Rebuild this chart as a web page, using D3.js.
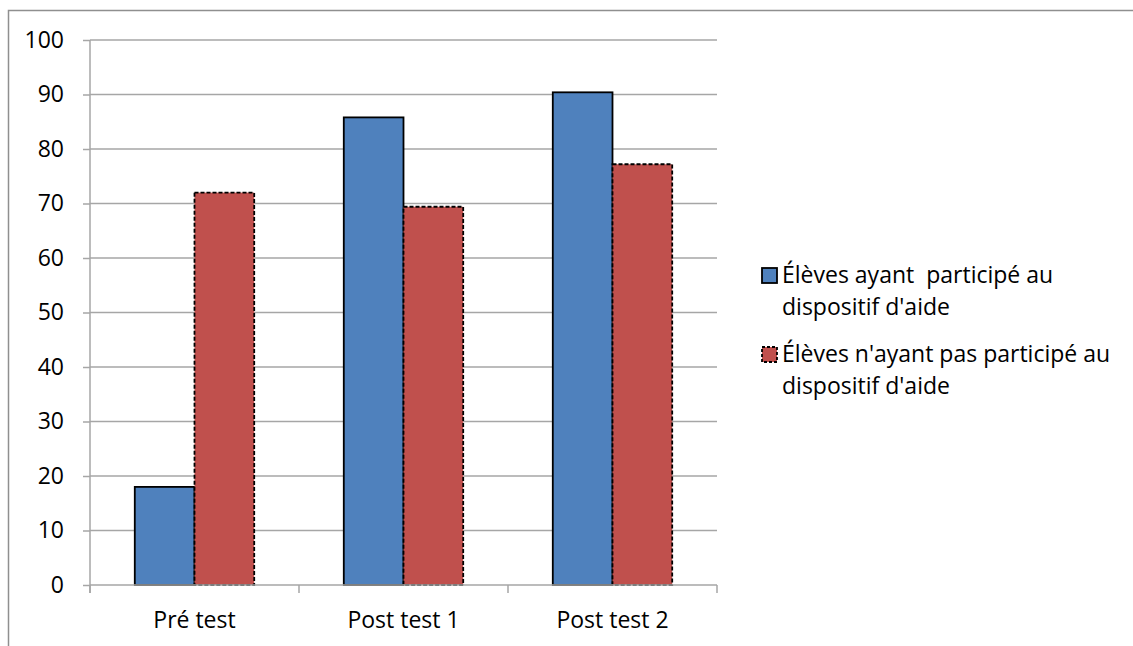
<!DOCTYPE html>
<html><head><meta charset="utf-8">
<script src="https://cdn.jsdelivr.net/npm/d3@7"></script>
<style>body{margin:0;background:#fff;} svg{display:block;font-family:"Open Sans",sans-serif;}</style>
</head><body>
<script>
const categories = ["Pré test", "Post test 1", "Post test 2"];
const seriesNames = ["Élèves ayant  participé au dispositif d'aide", "Élèves n'ayant pas participé au dispositif d'aide"];
const legendLines = [["Élèves ayant  participé au", "dispositif d'aide"], ["Élèves n'ayant pas participé au", "dispositif d'aide"]];
const participants = [18, 85.8, 90.4];
const nonParticipants = [72, 69.4, 77.2];
const yTicks = [0, 10, 20, 30, 40, 50, 60, 70, 80, 90, 100];
const colors = ["#4F81BD", "#C0504D"];

(function () {
const W = 1133, H = 646;
const FS = 23;
const svg = d3.select("body").append("svg").attr("width", W).attr("height", H);

// outer chart border (cropped on right/bottom)
svg.append("path").attr("d", `M8.5,${H+5} L8.5,10.5 L${W+5},10.5`)
  .attr("fill", "none").attr("stroke", "#8f8f8f").attr("stroke-width", 1.5);

const pL = 90, pR = 717, pT = 40, pB = 585;
const y = d3.scaleLinear().domain([0, 100]).range([pB, pT]);
const x = d3.scaleBand().domain(categories).range([pL, pR]).paddingInner(0).paddingOuter(0);
const gapRatio = 1.5;
const barW = x.bandwidth() / (2 + gapRatio);
const xs = d3.scaleBand().domain([0, 1]).range([0, 2 * barW]);

// gridlines
svg.append("g").selectAll("line").data(yTicks.filter(d => d > 0)).join("line")
  .attr("x1", pL).attr("x2", pR).attr("y1", d => y(d)).attr("y2", d => y(d))
  .attr("stroke", "#a6a6a6").attr("stroke-width", 1.5);

// y axis
const yAxis = svg.append("g").attr("transform", `translate(${pL},0)`)
  .call(d3.axisLeft(y).tickValues(yTicks).tickSize(7).tickPadding(19));
yAxis.select(".domain").attr("stroke", "#a6a6a6").attr("stroke-width", 1.5)
  .attr("d", `M0,${pT} V${pB + 8}`);
yAxis.selectAll(".tick line").attr("stroke", "#a6a6a6").attr("stroke-width", 1.5);
yAxis.selectAll(".tick text").attr("font-size", FS).attr("fill", "#000").attr("font-family", "Open Sans");

// bars
const data = [participants, nonParticipants];
const groups = svg.append("g").selectAll("g").data(data).join("g");
groups.each(function(vals, si) {
  d3.select(this).selectAll("rect").data(vals).join("rect")
    .attr("x", (d, i) => x(categories[i]) + (x.bandwidth() - 2 * barW) / 2 + xs(si))
    .attr("y", d => y(d))
    .attr("width", barW)
    .attr("height", d => y(0) - y(d))
    .attr("fill", colors[si])
    .attr("stroke", "#000")
    .attr("stroke-width", 1.8)
    .attr("stroke-dasharray", si === 1 ? "4,2" : null);
});

// x axis
const xAxis = svg.append("g").attr("transform", `translate(0,${pB})`)
  .call(d3.axisBottom(x).tickSize(0).tickPadding(27));
xAxis.select(".domain").attr("stroke", "#a6a6a6").attr("stroke-width", 1.5)
  .attr("d", `M${pL},0 H${pR}`);
xAxis.selectAll(".tick text").attr("font-size", FS).attr("fill", "#000").attr("font-family", "Open Sans");
svg.append("g").selectAll("line").data(categories.concat(["end"])).join("line")
  .attr("x1", (d, i) => pL + i * x.bandwidth()).attr("x2", (d, i) => pL + i * x.bandwidth())
  .attr("y1", pB).attr("y2", pB + 8)
  .attr("stroke", "#a6a6a6").attr("stroke-width", 1.5);

// legend
const legend = svg.append("g");
const legendY = [268, 347];
legendLines.forEach((lines, i) => {
  legend.append("rect").attr("x", 762).attr("y", legendY[i]).attr("width", 15).attr("height", 15)
    .attr("fill", colors[i]).attr("stroke", "#000").attr("stroke-width", 1.8)
    .attr("stroke-dasharray", i === 1 ? "3,2" : null);
  const t = legend.append("text").attr("x", 782).attr("y", legendY[i] + 15)
    .attr("font-size", FS).attr("fill", "#000");
  lines.forEach((ln, j) => {
    t.append("tspan").attr("x", 782).attr("dy", j === 0 ? 0 : 32).attr("xml:space", "preserve").text(ln);
  });
});
})();
</script>
</body></html>
